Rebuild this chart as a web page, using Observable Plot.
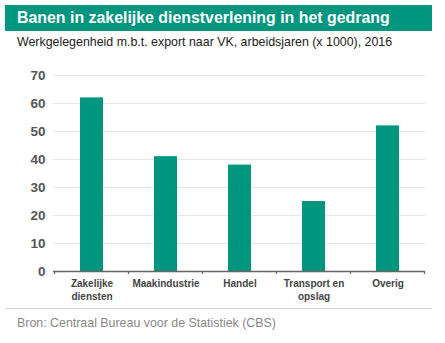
<!DOCTYPE html>
<html><head><meta charset="utf-8">
<script src="https://cdn.jsdelivr.net/npm/d3@7"></script>
<script src="https://cdn.jsdelivr.net/npm/@observablehq/plot@0.6"></script>
<style>
body{margin:0;background:#fff;font-family:"Liberation Sans",Arial,sans-serif;width:445px;height:343px;position:relative;overflow:hidden}
#banner{position:absolute;left:5px;top:5px;width:427px;height:26px;background:#00957f;color:#fff;font-weight:bold;font-size:15.9px;line-height:26px;padding-left:12px;box-sizing:border-box;white-space:nowrap}
#sub{position:absolute;left:17px;top:35px;font-size:12.4px;color:#222;white-space:nowrap}
#chart{position:absolute;left:0;top:55px}
#sep{position:absolute;left:5px;top:308px;width:427px;height:1px;background:#d0d0d0}
#src{position:absolute;left:17px;top:316px;font-size:12.4px;color:#888;white-space:nowrap}
</style></head><body>
<div id="banner">Banen in zakelijke dienstverlening in het gedrang</div>
<div id="sub">Werkgelegenheid m.b.t. export naar VK, arbeidsjaren (x 1000), 2016</div>
<div id="chart"></div>
<div id="sep"></div>
<div id="src">Bron: Centraal Bureau voor de Statistiek (CBS)</div>
<script>
const categories = ["Zakelijke diensten", "Maakindustrie", "Handel", "Transport en opslag", "Overig"];
const labels = ["Zakelijke\ndiensten", "Maakindustrie", "Handel", "Transport en\nopslag", "Overig"];
const values = [62, 41, 38, 25, 52];
const yTicks = [0, 10, 20, 30, 40, 50, 60, 70];

const data = categories.map((c, i) => ({cat: c, label: labels[i], value: values[i]}));

const edgeTicks = (index, scales) => {
  const x = scales.x, y0 = scales.y(0);
  const g = d3.create("svg:g");
  const bw = x.bandwidth();
  const gap = (x.step() - bw) / 2;
  const edges = [...categories.map(c => x(c) - gap), x(categories[categories.length-1]) + bw + gap];
  g.selectAll("line").data(edges).join("line")
    .attr("x1", d => d).attr("x2", d => d)
    .attr("y1", y0).attr("y2", y0 + 3)
    .attr("stroke", "#666").attr("stroke-width", 1.2);
  return g.node();
};

const chart = Plot.plot({
  width: 445,
  height: 250,
  marginTop: 20,
  marginBottom: 34,
  marginLeft: 53,
  marginRight: 20,
  style: {fontFamily: "Liberation Sans, Arial, sans-serif", background: "transparent"},
  x: {domain: categories, paddingInner: 0.69, paddingOuter: 0.345, align: 0.5, label: null},
  y: {domain: [0, 70], label: null},
  marks: [
    Plot.gridY(yTicks, {stroke: "#e6e6e6", strokeOpacity: 1, strokeWidth: 1}),
    Plot.barY(data, {x: "cat", y: "value", fill: "#00957f"}),
    Plot.ruleY([0], {stroke: "#666", strokeWidth: 1.5}),
    edgeTicks,
    Plot.axisY(yTicks, {tickSize: 0, tickPadding: 8, fontSize: 13.5, fontWeight: "bold", fill: "#555", label: null}),
    Plot.axisX({tickSize: 0, tickPadding: 7, fontSize: 10, fontWeight: "bold", fill: "#444", label: null,
      tickFormat: d => labels[categories.indexOf(d)], lineHeight: 1.25})
  ]
});
document.getElementById("chart").appendChild(chart);
</script>
</body></html>
